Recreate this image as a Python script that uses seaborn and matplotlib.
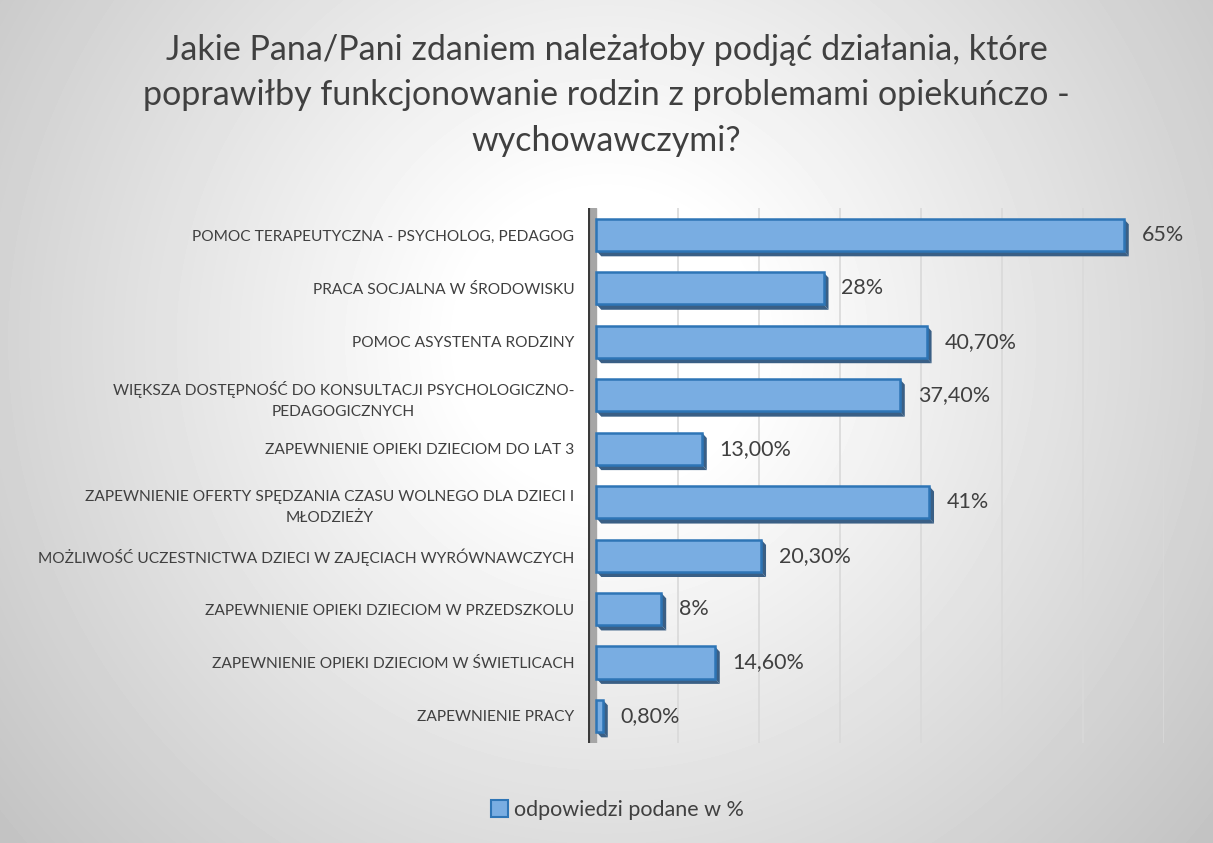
import numpy as np
import pandas as pd
import matplotlib
matplotlib.use("Agg")
import matplotlib.pyplot as plt
from matplotlib.patches import Polygon, Patch
import seaborn as sns

# ---------------------------
# Dane
# ---------------------------

categories = [
    "POMOC TERAPEUTYCZNA - PSYCHOLOG, PEDAGOG",
    "PRACA SOCJALNA W ŚRODOWISKU",
    "POMOC ASYSTENTA RODZINY",
    "WIĘKSZA DOSTĘPNOŚĆ DO KONSULTACJI PSYCHOLOGICZNO-\nPEDAGOGICZNYCH",
    "ZAPEWNIENIE OPIEKI DZIECIOM DO LAT 3",
    "ZAPEWNIENIE OFERTY SPĘDZANIA CZASU WOLNEGO DLA DZIECI I\nMŁODZIEŻY",
    "MOŻLIWOŚĆ UCZESTNICTWA DZIECI W ZAJĘCIACH WYRÓWNAWCZYCH",
    "ZAPEWNIENIE OPIEKI DZIECIOM W PRZEDSZKOLU",
    "ZAPEWNIENIE OPIEKI DZIECIOM W ŚWIETLICACH",
    "ZAPEWNIENIE PRACY",
]
values = [65, 28, 40.7, 37.4, 13.0, 41, 20.3, 8, 14.6, 0.8]
value_labels = ["65%", "28%", "40,70%", "37,40%", "13,00%", "41%",
                "20,30%", "8%", "14,60%", "0,80%"]
series_name = "odpowiedzi podane w %"
title = ("Jakie Pana/Pani zdaniem należałoby podjąć działania, które\n"
         "poprawiłby funkcjonowanie rodzin z problemami opiekuńczo -\n"
         "wychowawczymi?")

df = pd.DataFrame({"kategoria": categories, "wartosc": values})

# ---------------------------
# Styl
# ---------------------------

sns.set_style("white")
plt.rcParams["font.family"] = ["Lato", "DejaVu Sans"]

BAR_FACE = "#79ade2"
BAR_EDGE = "#2e75b6"
BAR_SIDE = "#3a5f85"
TEXT = "#404040"

fig = plt.figure(figsize=(12.13, 8.43), dpi=100)

# tło - gradient radialny
bg = fig.add_axes([0, 0, 1, 1], zorder=-10)
h, w = 843, 1213
yy, xx = np.mgrid[0:h, 0:w]
r = np.sqrt((xx - 606) ** 2 + (yy - 340) ** 2) / w
shade = 1 - 0.45 * np.clip(r - 0.12, 0, None)
bg.imshow(shade, cmap="gray", vmin=0, vmax=1, aspect="auto",
          extent=[0, 1, 0, 1], interpolation="bilinear")
bg.axis("off")

ax = fig.add_axes([0.485, 0.119, 0.475, 0.634])
ax.patch.set_alpha(0)

sns.barplot(data=df, x="wartosc", y="kategoria", orient="h",
            color=BAR_FACE, width=0.6, saturation=1,
            edgecolor=BAR_EDGE, linewidth=1.8, ax=ax, zorder=3)

# cień 3D pod/obok słupków
for p in ax.patches:
    x0, y0 = p.get_x(), p.get_y()
    bw, bh = p.get_width(), p.get_height()
    dx, dy = 0.6, 0.1
    side = Polygon([[x0 + bw, y0], [x0 + bw + dx, y0 + dy],
                    [x0 + bw + dx, y0 + bh + dy], [x0 + bw, y0 + bh]],
                   closed=True, facecolor=BAR_SIDE, edgecolor="none", zorder=2)
    bottom = Polygon([[x0, y0 + bh], [x0 + bw, y0 + bh],
                      [x0 + bw + dx, y0 + bh + dy], [x0 + dx, y0 + bh + dy]],
                     closed=True, facecolor=BAR_SIDE, edgecolor="none", zorder=2)
    ax.add_patch(side)
    ax.add_patch(bottom)

# etykiety wartości
for p, lab in zip(ax.patches[:len(values)], value_labels):
    ax.text(p.get_width() + 2.2, p.get_y() + p.get_height() / 2, lab,
            va="center", ha="left", fontsize=15.5, color=TEXT)

ax.set_xlim(-1.0, 70)
ax.set_ylim(len(values) - 0.5, -0.5)
ax.set_xticks(np.arange(10, 80, 10))
ax.xaxis.grid(True, color="#d9d9d9", linewidth=1.2, zorder=0)
ax.set_xticklabels([])
ax.tick_params(axis="x", length=0)
ax.tick_params(axis="y", length=0, pad=10, labelsize=11.2, labelcolor=TEXT)
for t in ax.get_yticklabels():
    t.set_multialignment("center")
    t.set_linespacing(1.65)
ax.set_xlabel("")
ax.set_ylabel("")

for s in ["top", "right", "bottom", "left"]:
    ax.spines[s].set_visible(False)

# ściana boczna
ax.axvspan(-1.0, 0.0, color="#a6a6a6", zorder=1)
ax.axvline(-1.0, color="#3a3a3a", linewidth=3, zorder=4)

fig.suptitle(title, y=0.96, fontsize=24.5, color=TEXT, linespacing=1.52)

handle = Patch(facecolor=BAR_FACE, edgecolor=BAR_EDGE, linewidth=1.5)
fig.legend([handle], [series_name], loc="center", bbox_to_anchor=(0.509, 0.039),
           frameon=False, fontsize=15.5, handlelength=0.8, handleheight=0.8,
           handletextpad=0.3, labelcolor=TEXT)

fig.savefig("out.png", dpi=100)
